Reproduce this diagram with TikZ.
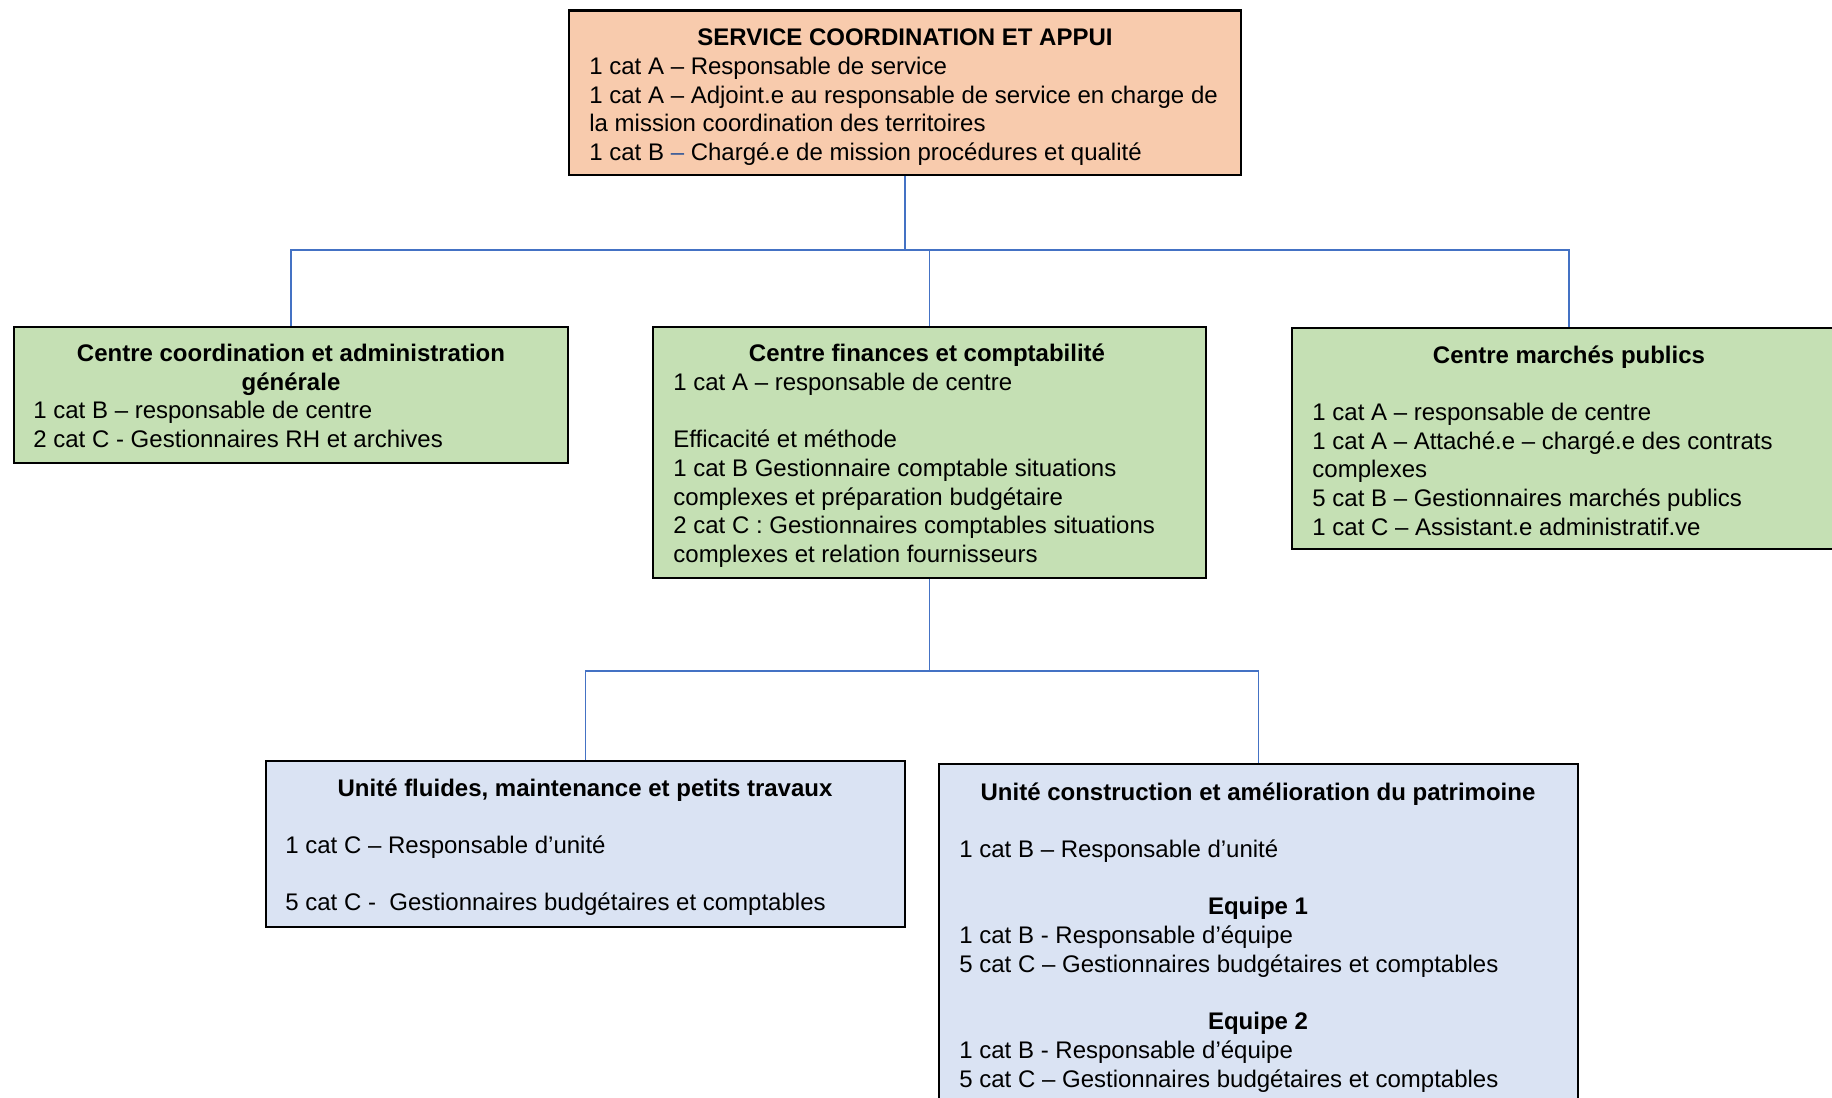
\documentclass[tikz,border=0pt]{standalone}
\usepackage{fontspec}
\setmainfont{Liberation Sans}
\usetikzlibrary{fit}
\definecolor{peach}{HTML}{F8CBAD}
\definecolor{leaf}{HTML}{C5E0B4}
\definecolor{sky}{HTML}{DAE3F3}
\definecolor{wire}{HTML}{4472C4}
\definecolor{dashblue}{HTML}{2F5597}
\begin{document}
\begin{tikzpicture}[x=0.5pt,y=-0.5pt,
  orgbox/.style={draw=black, line width=1.1pt, inner sep=0pt, rectangle},
  wiring/.style={draw=wire, line width=0.7pt},
  head/.style={font=\fontsize{12}{14.35}\selectfont\bfseries, inner sep=0pt, anchor=north, align=center},
  body/.style={font=\fontsize{12}{14.35}\selectfont, inner sep=0pt, anchor=north west, align=left},
]
\useasboundingbox (0,0) rectangle (1832,1098);
\clip (0,0) rectangle (1832,1098);

% boxes
\node[orgbox, fill=peach, fit={(569,10.5) (1241,175)}] (top) {};
\node[orgbox, fill=leaf, fit={(14,327) (568,463)}] (cag) {};
\node[orgbox, fill=leaf, fit={(653,327) (1206,578)}] (cfc) {};
\node[orgbox, fill=leaf, fit={(1292,328) (1846,549)}] (cmp) {};
\node[orgbox, fill=sky, fit={(266,761) (905,927)}] (ufm) {};
\node[orgbox, fill=sky, fit={(939,764) (1578,1120)}] (ucp) {};

% texts
\node[head] (topT) at (905,25) {\strut SERVICE COORDINATION ET APPUI};
\node[body] (topB) at (589,54) {\strut 1 cat A – Responsable de service\\1 cat A – Adjoint.e au responsable de service en charge de\\la mission coordination des territoires\\1 cat B {\color{dashblue}–} Chargé.e de mission procédures et qualité};

\node[head] (cagT) at (291,341) {\strut Centre coordination et administration\\générale};
\node[body] (cagB) at (33,398) {\strut 1 cat B – responsable de centre\\2 cat C - Gestionnaires RH et archives};

\node[head] (cfcT) at (927,341) {\strut Centre finances et comptabilité};
\node[body] (cfcB) at (673,370) {\strut 1 cat A – responsable de centre\\[14.35pt]Efficacité et méthode\\1 cat B Gestionnaire comptable situations\\complexes et préparation budgétaire\\2 cat C : Gestionnaires comptables situations\\complexes et relation fournisseurs};

\node[head] (cmpT) at (1569,343) {\strut Centre marchés publics};
\node[body] (cmpB) at (1312,400) {\strut 1 cat A – responsable de centre\\1 cat A – Attaché.e – chargé.e des contrats\\complexes\\5 cat B – Gestionnaires marchés publics\\1 cat C – Assistant.e administratif.ve};

\node[head] (ufmT) at (585,776) {\strut Unité fluides, maintenance et petits travaux};
\node[body] (ufmB) at (285,833) {\strut 1 cat C – Responsable d’unité\\[14.35pt]5 cat C -~ Gestionnaires budgétaires et comptables};

\node[head] (ucpT) at (1258,780) {\strut Unité construction et amélioration du patrimoine};
\node[body] (ucpB) at (959,837) {\strut 1 cat B – Responsable d’unité};
\node[head] (eq1) at (1258,894) {\strut Equipe 1};
\node[body] (eq1B) at (959,923) {\strut 1 cat B - Responsable d’équipe\\5 cat C – Gestionnaires budgétaires et comptables};
\node[head] (eq2) at (1258,1009) {\strut Equipe 2};
\node[body] (eq2B) at (959,1038) {\strut 1 cat B - Responsable d’équipe\\5 cat C – Gestionnaires budgétaires et comptables};

% connectors
\coordinate (lvl1) at (0,250);
\coordinate (lvl2) at (0,671);
\coordinate (j1) at (top.south |- lvl1);
\coordinate (j2) at (cfc.south |- lvl2);
\draw[wiring] (top.south) -- (j1);
\draw[wiring] (j1) -| (cag.north);
\draw[wiring] (j1) -| (cfc.north);
\draw[wiring] (j1) -| (cmp.north);
\draw[wiring] (cfc.south) -- (j2);
\draw[wiring] (j2) -| (ufm.north);
\draw[wiring] (j2) -| (ucp.north);
\end{tikzpicture}
\end{document}
